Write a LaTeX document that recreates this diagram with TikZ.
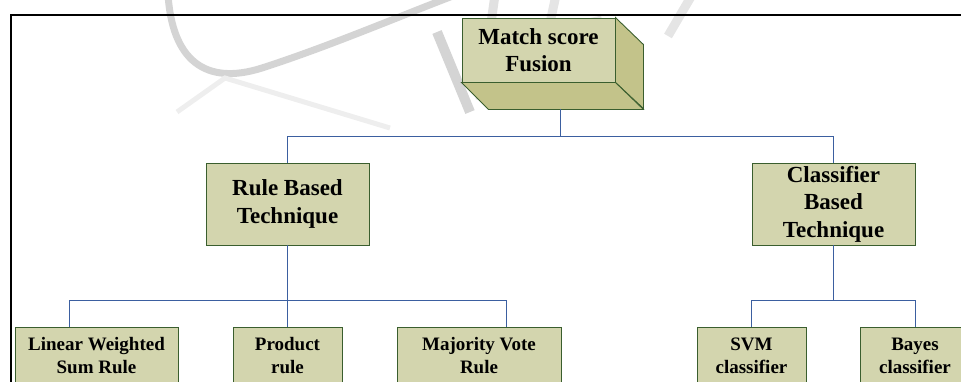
\documentclass[tikz,border=0pt]{standalone}
\usepackage{fontspec}
\setmainfont{Liberation Serif}
\usetikzlibrary{calc,positioning}
\definecolor{boxfill}{HTML}{D3D5AE}
\definecolor{sidefill}{HTML}{C3C38A}
\definecolor{boxline}{HTML}{3A5E2E}
\definecolor{linkblue}{HTML}{3B5FA0}
\definecolor{wmark}{HTML}{D4D4D4}
\tikzset{
  box/.style={draw=boxline, fill=boxfill, line width=0.9pt, align=center, inner sep=0pt,
    font=\bfseries\fontsize{23}{27.4}\selectfont},
  leafbox/.style={box, minimum height=58pt, font=\bfseries\fontsize{19}{23}\selectfont},
  link/.style={draw=linkblue, line width=1pt}
}
\begin{document}
\begin{tikzpicture}[x=1pt,y=-1pt]
\useasboundingbox (0,0) rectangle (961,381);
% watermark
\draw [line width=7pt,wmark,line cap=round] (168,-6) .. controls (172,60) and (205,86) .. (262,68) .. controls (330,46) and (400,16) .. (458,-6);
\draw [line width=5pt,wmark!40] (177,112) -- (225,78) -- (390,128);
\draw [line width=10pt,wmark] (437,32) -- (470,112);
\draw [line width=9pt,wmark!70] (495,-5) -- (480,100);
\draw [line width=9pt,wmark!60] (556,-5) -- (548,32) -- (602,20);
\draw [line width=9pt,wmark!60] (692,-5) -- (668,36);
% frame
\draw [line width=2pt] (11,400) -- (11,15) -- (975,15);
% top box
\node [box, minimum width=153pt, minimum height=64pt] (fusion) at (538.5,50) {Match score\\Fusion};
\filldraw [fill=sidefill, draw=boxline, line width=0.9pt] (fusion.north east) -- ++(28,27) -- ++(0,64) -- ($(fusion.south east)$) -- cycle;
\filldraw [fill=sidefill, draw=boxline, line width=0.9pt] (fusion.south west) -- (fusion.south east) -- ++(28,27) -- ($(fusion.south west)+(27,27)$) -- cycle;
\coordinate (fusionbase) at ($(fusion.south)+(21.5,27)$);
% second level
\node [box, minimum width=163pt, minimum height=82pt] (rule) at (287.5,204) {Rule Based\\Technique};
\node [box, minimum width=163pt, minimum height=82pt] (classifier) at (833.5,204) {Classifier\\Based\\Technique};
% third level
\node [leafbox, minimum width=163pt] (linear) at (96.5,356) {Linear Weighted\\Sum Rule};
\node [leafbox, minimum width=109pt] (product) at (287.5,356) {Product\\rule};
\node [leafbox, minimum width=164pt] (majority) at (479,356) {Majority Vote\\Rule};
\node [leafbox, minimum width=109pt] (svm) at (751.5,356) {SVM\\classifier};
\node [leafbox, minimum width=109pt] (bayes) at (915,356) {Bayes\\classifier};
% connectors
\draw [link] (fusionbase) -- ++(0,27) -| (rule.north);
\draw [link] (fusionbase) -- ++(0,27) -| (classifier.north);
\draw [link] (rule.south) -- ++(0,55) -| ([xshift=-27.5pt]linear.north);
\draw [link] (rule.south) -- (product.north);
\draw [link] (rule.south) -- ++(0,55) -| ([xshift=27pt]majority.north);
\draw [link] (classifier.south) -- ++(0,55) -| (svm.north);
\draw [link] (classifier.south) -- ++(0,55) -| (bayes.north);
\end{tikzpicture}
\end{document}
